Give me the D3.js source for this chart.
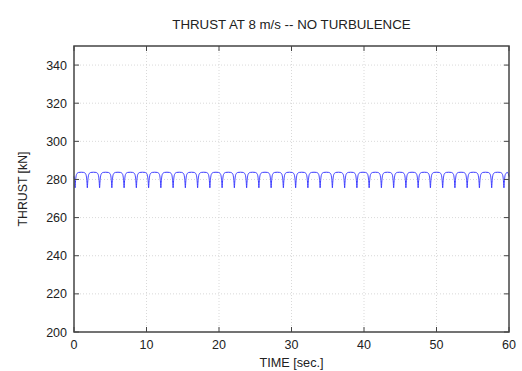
<!DOCTYPE html>
<html><head><meta charset="utf-8">
<script src="https://cdn.jsdelivr.net/npm/d3@7"></script>
<style>body{margin:0;background:#fff}svg{display:block}text{font-family:"Liberation Sans",Arial,sans-serif;fill:#222}</style>
</head><body><svg id="c" width="522" height="371"></svg>
<script>
const xTicks = [0, 10, 20, 30, 40, 50, 60];
const yTicks = [200, 220, 240, 260, 280, 300, 320, 340];
// times (s) of the narrow thrust dips (tower-shadow)
const dipTimes = [0.15, 1.84, 3.53, 5.22, 6.91, 8.60, 10.29, 11.98, 13.67, 15.36, 17.05, 18.74,
  20.43, 22.12, 23.81, 25.50, 27.19, 28.88, 30.57, 32.26, 33.95, 35.64, 37.33, 39.02,
  40.71, 42.40, 44.09, 45.78, 47.47, 49.16, 50.85, 52.54, 54.23, 55.92, 57.61, 59.30];
// shape of one cycle between two dips: fraction of the cycle, thrust [kN]
const cyclePhase = [0, 0.03, 0.07, 0.12, 0.2, 0.3, 0.5, 0.7, 0.8, 0.88, 0.93, 0.97, 1];
const cycleThrust = [275.6, 278.6, 281.2, 282.7, 283.4, 283.7, 283.8, 283.7, 283.4, 282.7, 281.2, 278.6, 275.6];
const startThrust = 281.6, endThrust = 281.5;

const svg = d3.select("#c");
const L = 74, R = 509, T = 46, B = 332;
const x = d3.scaleLinear().domain([0, 60]).range([L, R]);
const y = d3.scaleLinear().domain([200, 350]).range([B, T]);

// grid
const g = svg.append("g");
g.selectAll(".gx").data(xTicks.slice(1, -1)).enter().append("line")
  .attr("x1", d => x(d)).attr("x2", d => x(d)).attr("y1", T).attr("y2", B)
  .attr("stroke", "#cfcfcf").attr("stroke-width", 0.8).attr("stroke-dasharray", "1,2");
g.selectAll(".gy").data(yTicks.slice(1)).enter().append("line")
  .attr("y1", d => y(d)).attr("y2", d => y(d)).attr("x1", L).attr("x2", R)
  .attr("stroke", "#cfcfcf").attr("stroke-width", 0.8).attr("stroke-dasharray", "1,2");

// data
const per = dipTimes[1] - dipTimes[0];
const pts = [[0, startThrust], [dipTimes[0] * 0.5, 279.5]];
for (let i = 0; i < dipTimes.length - 1; i++) {
  const t0 = dipTimes[i], t1 = dipTimes[i + 1];
  cyclePhase.forEach((p, j) => { if (i > 0 && j === 0) return; pts.push([t0 + p * (t1 - t0), cycleThrust[j]]); });
}
const last = dipTimes[dipTimes.length - 1];
cyclePhase.forEach((p, j) => { if (j > 0 && last + p * per < 60) pts.push([last + p * per, cycleThrust[j]]); });
pts.push([60, endThrust]);

const line = d3.line().x(d => x(d[0])).y(d => y(d[1])).curve(d3.curveMonotoneX);
svg.append("path").datum(pts).attr("d", line).attr("fill", "none")
  .attr("stroke", "#3a3aff").attr("stroke-width", 1);

// axes (ticks inward on all four sides)
const tk = 5;
const ax = svg.append("g").attr("stroke", "#444").attr("stroke-width", 1);
xTicks.forEach(d => {
  ax.append("line").attr("x1", x(d)).attr("x2", x(d)).attr("y1", B).attr("y2", B - tk);
  ax.append("line").attr("x1", x(d)).attr("x2", x(d)).attr("y1", T).attr("y2", T + tk);
});
yTicks.forEach(d => {
  ax.append("line").attr("y1", y(d)).attr("y2", y(d)).attr("x1", L).attr("x2", L + tk);
  ax.append("line").attr("y1", y(d)).attr("y2", y(d)).attr("x1", R).attr("x2", R - tk);
});
svg.append("rect").attr("x", L).attr("y", T).attr("width", R - L).attr("height", B - T)
  .attr("fill", "none").attr("stroke", "#444").attr("stroke-width", 1.5);

svg.selectAll(".xl").data(xTicks).enter().append("text")
  .attr("x", d => x(d)).attr("y", 349).attr("text-anchor", "middle")
  .attr("font-size", 12.5).text(d => d);
svg.selectAll(".yl").data(yTicks).enter().append("text")
  .attr("x", 67).attr("y", d => y(d) + 4.5).attr("text-anchor", "end")
  .attr("font-size", 12.5).text(d => d);

svg.append("text").attr("x", (L + R) / 2).attr("y", 29).attr("text-anchor", "middle")
  .attr("font-size", 13.3).text("THRUST AT 8 m/s -- NO TURBULENCE");
svg.append("text").attr("x", (L + R) / 2).attr("y", 367).attr("text-anchor", "middle")
  .attr("font-size", 12.7).text("TIME [sec.]");
svg.append("text").attr("transform", `translate(27,${(T + B) / 2}) rotate(-90)`)
  .attr("text-anchor", "middle").attr("font-size", 12.3).text("THRUST [kN]");
</script></body></html>
